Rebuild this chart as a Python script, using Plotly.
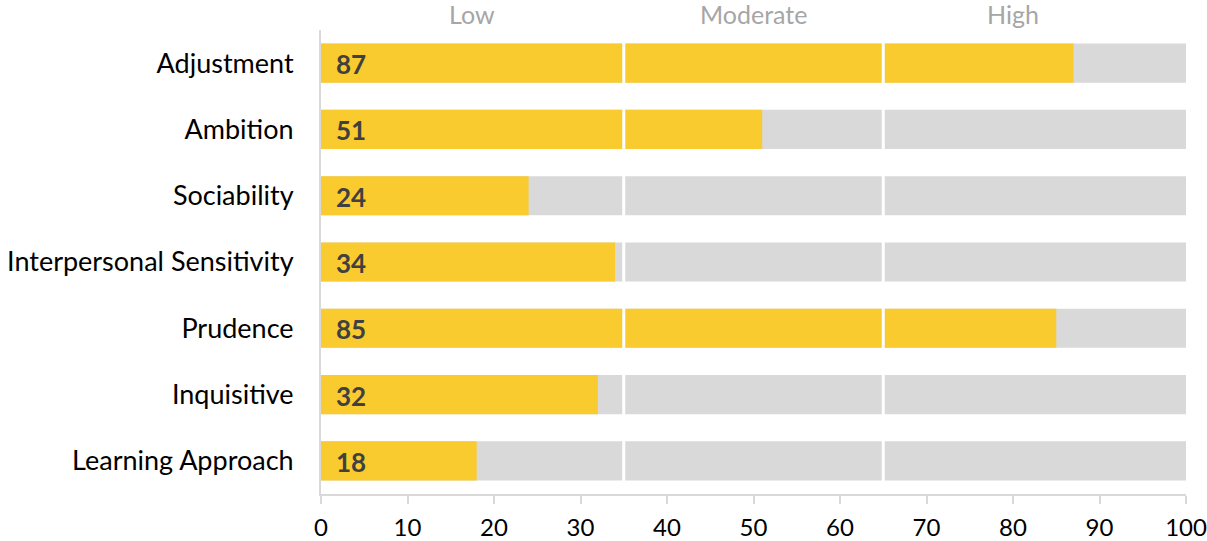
import plotly.graph_objects as go

# Scale scores per personality dimension (0-100)
categories = ["Adjustment", "Ambition", "Sociability", "Interpersonal Sensitivity",
              "Prudence", "Inquisitive", "Learning Approach"]
scores = [87, 51, 24, 34, 85, 32, 18]
scale_max = [100] * len(categories)

# Band labels along the top and the cut points between bands
band_labels = ["Low", "Moderate", "High"]
band_label_pos = [17.5, 50, 80]
band_cuts = [35, 65]

tick_vals = list(range(0, 101, 10))

YELLOW = "#F9CB2E"
TRACK = "#D9D9D9"
FONT = "Lato"

fig = go.Figure()

# Full-length grey track behind each score
fig.add_trace(go.Bar(
    y=categories, x=scale_max, orientation="h",
    marker=dict(color=TRACK, line=dict(width=0)),
    hoverinfo="skip", showlegend=False,
))

# Score bars
fig.add_trace(go.Bar(
    y=categories, x=scores, orientation="h",
    marker=dict(color=YELLOW, line=dict(width=0)),
    showlegend=False,
))

# White separators between bands
for cut in band_cuts:
    fig.add_shape(type="line", xref="x", yref="paper",
                  x0=cut, x1=cut, y0=0.01, y1=0.99,
                  line=dict(color="white", width=3), layer="above")

# Score labels at the start of each bar
for cat, val in zip(categories, scores):
    fig.add_annotation(x=0, y=cat, xref="x", yref="y", text=f"<b>{val}</b>",
                       showarrow=False, xanchor="left", xshift=13, yshift=-1,
                       font=dict(family=FONT, size=26, color="#404040"))

# Band names above the plot
for lbl, pos in zip(band_labels, band_label_pos):
    fig.add_annotation(x=pos, y=1, xref="x", yref="paper", text=lbl,
                       showarrow=False, xanchor="center", yanchor="bottom", yshift=-1,
                       font=dict(family=FONT, size=25, color="#A6A6A6"))

fig.update_layout(
    width=1207, height=541,
    margin=dict(l=321, r=21, t=30, b=47),
    barmode="overlay", bargap=0.41,
    plot_bgcolor="white", paper_bgcolor="white",
    font=dict(family=FONT, size=24, color="#000000"),
    xaxis=dict(range=[0, 100], tickvals=tick_vals, showgrid=False, zeroline=False,
               automargin=False,
               showline=True, linecolor="#D9D9D9", linewidth=2,
               ticks="outside", ticklen=8, tickcolor="#D9D9D9", tickwidth=2,
               ticklabelstandoff=3,
               tickfont=dict(family=FONT, size=24, color="#000000")),
    yaxis=dict(categoryorder="array", categoryarray=categories[::-1],
               showgrid=False, zeroline=False, automargin=False,
               showline=True, linecolor="#D9D9D9", linewidth=2,
               ticks="", ticklabelstandoff=20,
               tickfont=dict(family=FONT, size=27, color="#000000")),
)

fig.write_html("out.html")
